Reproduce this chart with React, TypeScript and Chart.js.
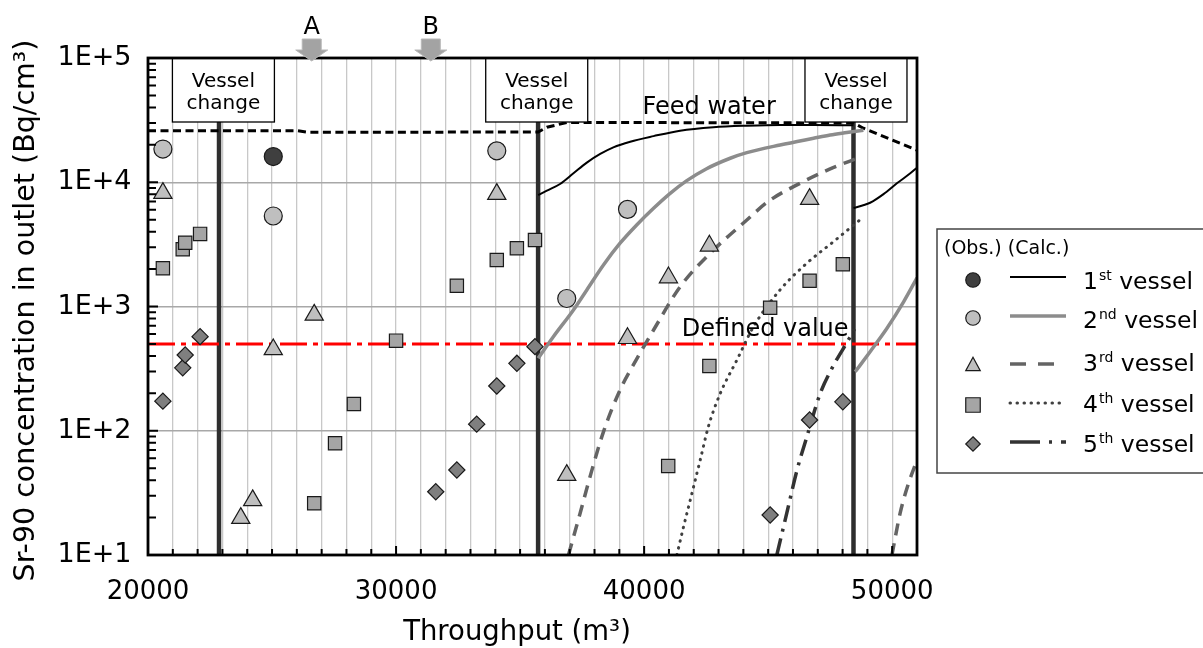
import React, { useEffect, useRef } from 'react';
import { Chart, registerables } from 'chart.js';

Chart.register(...registerables);

const FONT = '"DejaVu Sans", Verdana, sans-serif';

// ---- axes ----
const xMin = 20000;
const xMax = 51000;
const xGridStep = 1000;
const yMin = 10;
const yMax = 100000;
const xTickLabels = ['20000', '30000', '40000', '50000'];
const yTickLabels = ['1E+1', '1E+2', '1E+3', '1E+4', '1E+5'];
const xTitle = 'Throughput (m³)';
const yTitle = 'Sr-90 concentration in outlet (Bq/cm³)';

// ---- annotations ----
const vesselChangeX = [22863, 35726, 48440];
const vesselBoxX = [23040, 35670, 48540];
const vesselBoxText = ['Vessel', 'change'];
const arrowLabels = ['A', 'B'];
const arrowX = [26600, 31400];
const definedValue = 500;
const definedLabel = 'Defined value';
const definedLabelPos = [44880, 650];
const feedLabel = 'Feed water';
const feedLabelPos = [42620, 39600];

// ---- feed water ----
const feedX = [20000, 26000, 26500, 35730, 36080, 36880, 48440, 48840, 51000];
const feedY = [26000, 26000, 25200, 25400, 27700, 30300, 30000, 27200, 18100];

// ---- calculated curves ----
const calc1aX = [35730, 36080, 36610, 37150, 37690, 38230, 38760, 39440, 40380, 41450, 42790, 44140, 45480, 46830, 48440];
const calc1aY = [7890, 8550, 9680, 11800, 14400, 16900, 19100, 21200, 23500, 26000, 27700, 28500, 28900, 28900, 28700];
const calc1bX = [48440, 48800, 49110, 49650, 50190, 50730, 51000];
const calc1bY = [6200, 6500, 6840, 8030, 9810, 11800, 13100];

const calc2aX = [35730, 36340, 37150, 37690, 38360, 39030, 39700, 40380, 41050, 41720, 42500, 43470, 44140, 45480, 46830, 47500, 48170, 48840];
const calc2aY = [383, 571, 938, 1360, 2160, 3230, 4530, 6170, 8140, 10300, 12800, 15600, 17300, 19950, 22600, 24000, 25100, 26200];
const calc2bX = [48510, 49110, 49790, 50460, 51000];
const calc2bY = [298, 433, 668, 1090, 1700];

const calc3aX = [36950, 37420, 37820, 38360, 39030, 39640, 40380, 41450, 42660, 44140, 45000, 46290, 47500, 48700];
const calc3aY = [10, 21.7, 42.7, 98, 213, 360, 647, 1440, 2680, 4970, 7000, 9820, 12800, 15900];
const calc3bX = [49990, 50320, 50660, 51000];
const calc3bY = [10, 21.7, 37.8, 58];

const calc4X = [41320, 41590, 41860, 42260, 42590, 43070, 43740, 44410, 45480, 46560, 47630, 48780];
const calc4Y = [10, 16.9, 27.7, 58, 108, 200, 371, 689, 1360, 2230, 3320, 5130];

const calc5X = [45350, 45750, 46160, 46560, 47100, 47570, 48310, 48480];
const calc5Y = [10, 21.7, 48, 89.5, 200, 318, 571, 660];

// ---- observed ----
const obs1X = [25050];
const obs1Y = [16100];
const obs2X = [20600, 25050, 34060, 36880, 39330];
const obs2Y = [18500, 5350, 17900, 1160, 6050];
const obs3X = [20600, 23740, 24220, 25050, 26700, 34060, 36880, 39330, 40980, 42630, 46670];
const obs3Y = [8170, 19.8, 27.5, 451, 856, 8020, 43.9, 555, 1710, 3080, 7310];
const obs4X = [20600, 21400, 21500, 22100, 26700, 27540, 28300, 30000, 32450, 34060, 34870, 35600, 40970, 42630, 45080, 46670, 48010];
const obs4Y = [2030, 2890, 3260, 3840, 26.1, 79.3, 164, 531, 1470, 2370, 2940, 3430, 52, 332, 977, 1610, 2190];
const obs5X = [20600, 21400, 21500, 22100, 31600, 32450, 33250, 34060, 34870, 35600, 45080, 46670, 48010];
const obs5Y = [173, 321, 407, 572, 32.3, 48.3, 113, 229, 349, 475, 21, 122, 171];

// ---- legend ----
const legendHeader = '(Obs.) (Calc.)';
const legendNums = ['1', '2', '3', '4', '5'];
const legendSups = ['st', 'nd', 'rd', 'th', 'th'];
const legendWord = ' vessel';

// ---- styles ----
const C_DARK_CIRCLE = '#3f3f3f';
const C_LIGHT = '#bfbfbf';
const C_SQUARE = '#a5a5a5';
const C_DIAMOND = '#7f7f7f';
const C_EDGE = '#1a1a1a';

const calcStyles = [
  { color: '#000000', width: 2, dash: [] as number[], cap: 'butt' },
  { color: '#8c8c8c', width: 3.5, dash: [] as number[], cap: 'butt' },
  { color: '#646464', width: 3.5, dash: [12, 8], cap: 'butt' },
  { color: '#404040', width: 3, dash: [0.5, 6.5], cap: 'round' },
  { color: '#333333', width: 3.5, dash: [17, 7, 3, 7], cap: 'butt' },
];
const markStyles = [
  { style: 'circle', r: 9, fill: C_DARK_CIRCLE },
  { style: 'circle', r: 9, fill: C_LIGHT },
  { style: 'triangle', r: 10.5, fill: C_LIGHT },
  { style: 'rect', r: 9.4, fill: C_SQUARE },
  { style: 'rectRot', r: 8.1, fill: C_DIAMOND },
];

const pts = (xs: number[], ys: number[]) => xs.map((x, i) => ({ x, y: ys[i] }));

const isDecade = (v: number) => {
  const l = Math.log10(v);
  return Math.abs(l - Math.round(l)) < 1e-6;
};

function lineDS(label: string, xs: number[], ys: number[], s: any, order: number, smooth = true) {
  return {
    label,
    data: pts(xs, ys),
    showLine: true,
    borderColor: s.color,
    borderWidth: s.width,
    borderDash: s.dash,
    borderCapStyle: s.cap,
    pointRadius: 0,
    pointHoverRadius: 0,
    fill: false,
    cubicInterpolationMode: smooth ? 'monotone' : 'default',
    tension: 0,
    order,
  };
}

function markDS(label: string, xs: number[], ys: number[], m: any) {
  return {
    label,
    data: pts(xs, ys),
    showLine: false,
    pointStyle: m.style,
    pointRadius: m.r,
    pointHoverRadius: m.r,
    pointBackgroundColor: m.fill,
    pointBorderColor: C_EDGE,
    pointBorderWidth: 1.2,
    order: 0,
  };
}

function drawMark(ctx: CanvasRenderingContext2D, kind: string, x: number, y: number, s: number, fill: string) {
  const h = s / 2;
  ctx.beginPath();
  if (kind === 'circle') ctx.arc(x, y, h, 0, Math.PI * 2);
  else if (kind === 'triangle') {
    ctx.moveTo(x, y - h * 0.92);
    ctx.lineTo(x + h, y + h * 0.92);
    ctx.lineTo(x - h, y + h * 0.92);
    ctx.closePath();
  } else if (kind === 'rect') ctx.rect(x - h, y - h, s, s);
  else {
    ctx.moveTo(x, y - h);
    ctx.lineTo(x + h, y);
    ctx.lineTo(x, y + h);
    ctx.lineTo(x - h, y);
    ctx.closePath();
  }
  ctx.fillStyle = fill;
  ctx.fill();
  ctx.lineWidth = 1.2;
  ctx.strokeStyle = C_EDGE;
  ctx.stroke();
}

const decorPlugin = {
  id: 'decor',
  afterDraw(chart: any) {
    const { ctx, chartArea: ca } = chart;
    const xs = chart.scales.x;
    const ys = chart.scales.y;
    ctx.save();

    // inward ticks
    ctx.strokeStyle = '#000';
    ctx.lineWidth = 2;
    ctx.beginPath();
    xs.ticks.forEach((t: any) => {
      const px = xs.getPixelForValue(t.value);
      const len = t.value % 10000 === 0 ? 9 : 6;
      ctx.moveTo(px, ca.bottom);
      ctx.lineTo(px, ca.bottom - len);
    });
    ys.ticks.forEach((t: any) => {
      const py = ys.getPixelForValue(t.value);
      const len = isDecade(t.value) ? 10 : 8;
      ctx.moveTo(ca.left, py);
      ctx.lineTo(ca.left + len, py);
    });
    ctx.stroke();

    // vessel-change boxes
    vesselBoxX.forEach((v) => {
      const cx = xs.getPixelForValue(v);
      const w = 102;
      const top = ca.top;
      const h = 64;
      ctx.fillStyle = '#fff';
      ctx.fillRect(cx - w / 2, top, w, h);
      ctx.strokeStyle = '#000';
      ctx.lineWidth = 1.3;
      ctx.strokeRect(cx - w / 2, top, w, h);
      ctx.fillStyle = '#000';
      ctx.font = `20px ${FONT}`;
      ctx.textAlign = 'center';
      ctx.textBaseline = 'alphabetic';
      ctx.fillText(vesselBoxText[0], cx, top + 29);
      ctx.fillText(vesselBoxText[1], cx, top + 51);
    });

    // frame
    ctx.strokeStyle = '#000';
    ctx.lineWidth = 2.8;
    ctx.strokeRect(ca.left, ca.top, ca.right - ca.left, ca.bottom - ca.top);

    // arrows A / B
    arrowX.forEach((v, i) => {
      const cx = xs.getPixelForValue(v);
      const top = ca.top;
      ctx.beginPath();
      ctx.moveTo(cx - 9.5, top - 19);
      ctx.lineTo(cx + 9.5, top - 19);
      ctx.lineTo(cx + 9.5, top - 8);
      ctx.lineTo(cx + 16, top - 8);
      ctx.lineTo(cx, top + 3);
      ctx.lineTo(cx - 16, top - 8);
      ctx.lineTo(cx - 9.5, top - 8);
      ctx.closePath();
      ctx.fillStyle = '#a3a3a3';
      ctx.fill();
      ctx.strokeStyle = '#b8b8b8';
      ctx.lineWidth = 1;
      ctx.stroke();
      ctx.fillStyle = '#000';
      ctx.font = `24px ${FONT}`;
      ctx.textAlign = 'center';
      ctx.textBaseline = 'alphabetic';
      ctx.fillText(arrowLabels[i], cx, top - 24);
    });

    // in-plot labels
    ctx.fillStyle = '#000';
    ctx.font = `24px ${FONT}`;
    ctx.textAlign = 'center';
    ctx.textBaseline = 'middle';
    ctx.fillText(feedLabel, xs.getPixelForValue(feedLabelPos[0]), ys.getPixelForValue(feedLabelPos[1]));
    ctx.fillText(definedLabel, xs.getPixelForValue(definedLabelPos[0]), ys.getPixelForValue(definedLabelPos[1]));

    // axis titles
    ctx.font = `27.5px ${FONT}`;
    ctx.textAlign = 'center';
    ctx.textBaseline = 'alphabetic';
    ctx.fillText(xTitle, 517, 640);
    ctx.save();
    ctx.font = `28.5px ${FONT}`;
    ctx.translate(33.5, (ca.top + ca.bottom) / 2 + 4);
    ctx.rotate(-Math.PI / 2);
    ctx.fillText(yTitle, 0, 0);
    ctx.restore();

    // legend
    const L = { left: 937, top: 229, right: 1216, bottom: 473 };
    ctx.fillStyle = '#fff';
    ctx.fillRect(L.left, L.top, L.right - L.left, L.bottom - L.top);
    ctx.strokeStyle = '#444';
    ctx.lineWidth = 1.5;
    ctx.strokeRect(L.left, L.top, L.right - L.left, L.bottom - L.top);
    ctx.fillStyle = '#000';
    ctx.font = `19px ${FONT}`;
    ctx.textAlign = 'left';
    ctx.textBaseline = 'middle';
    ctx.fillText(legendHeader, 944, 249);
    const rowY = [280, 319, 362, 403, 443];
    const markY = [280, 318, 364, 405, 444];
    const lineY = [277, 316, 364, 403, 442];
    legendNums.forEach((n, i) => {
      const m = markStyles[i];
      drawMark(ctx, m.style, 973, markY[i], 14.5, m.fill);
      const s = calcStyles[i];
      ctx.beginPath();
      ctx.setLineDash(i === 2 ? [16, 12] : i === 3 ? [0.5, 6.5] : i === 4 ? [30, 9, 3, 9] : []);
      ctx.lineCap = s.cap as CanvasLineCap;
      ctx.strokeStyle = s.color;
      ctx.lineWidth = s.width;
      ctx.moveTo(1010, lineY[i]);
      ctx.lineTo(1066, lineY[i]);
      ctx.stroke();
      ctx.setLineDash([]);
      ctx.lineCap = 'butt';
      ctx.fillStyle = '#000';
      ctx.textBaseline = 'alphabetic';
      const base = rowY[i] + 8.6;
      ctx.font = `23.5px ${FONT}`;
      let x = 1083;
      ctx.fillText(n, x, base);
      x += ctx.measureText(n).width + 1;
      ctx.font = `14px ${FONT}`;
      ctx.fillText(legendSups[i], x, base - 9);
      x += ctx.measureText(legendSups[i]).width;
      ctx.font = `23.5px ${FONT}`;
      ctx.fillText(legendWord, x, base);
    });

    ctx.restore();
  },
};

export default function App() {
  const ref = useRef<HTMLCanvasElement>(null);
  useEffect(() => {
    const vesselLine = { color: '#2e2e2e', width: 4.5, dash: [] as number[], cap: 'butt' };
    const datasets: any[] = [
      ...vesselChangeX.map((v, i) => lineDS('vessel change ' + (i + 1), [v, v], [yMin, yMax], vesselLine, 6, false)),
      lineDS('Feed water', feedX, feedY, { color: '#000', width: 3, dash: [8, 4.5], cap: 'butt' }, 5, false),
      lineDS('Defined value', [xMin, xMax], [definedValue, definedValue], { color: '#ff0000', width: 3, dash: [27, 6, 5, 6], cap: 'butt' }, 5, false),
      lineDS('1st calc a', calc1aX, calc1aY, calcStyles[0], 2),
      lineDS('1st calc b', calc1bX, calc1bY, calcStyles[0], 2),
      lineDS('2nd calc a', calc2aX, calc2aY, calcStyles[1], 2),
      lineDS('2nd calc b', calc2bX, calc2bY, calcStyles[1], 2),
      lineDS('3rd calc a', calc3aX, calc3aY, calcStyles[2], 2),
      lineDS('3rd calc b', calc3bX, calc3bY, calcStyles[2], 2),
      lineDS('4th calc', calc4X, calc4Y, calcStyles[3], 2),
      lineDS('5th calc', calc5X, calc5Y, calcStyles[4], 2),
      markDS('1st obs', obs1X, obs1Y, markStyles[0]),
      markDS('2nd obs', obs2X, obs2Y, markStyles[1]),
      markDS('3rd obs', obs3X, obs3Y, markStyles[2]),
      markDS('4th obs', obs4X, obs4Y, markStyles[3]),
      markDS('5th obs', obs5X, obs5Y, markStyles[4]),
    ];

    const chart = new Chart(ref.current as HTMLCanvasElement, {
      type: 'scatter',
      data: { datasets },
      options: {
        responsive: false,
        animation: false,
        devicePixelRatio: 1,
        layout: { padding: { left: 0, top: 58, right: 286, bottom: 0 } },
        plugins: { legend: { display: false }, tooltip: { enabled: false } },
        events: [],
        scales: {
          x: {
            type: 'linear',
            min: xMin,
            max: xMax,
            afterBuildTicks: (scale: any) => {
              const t = [];
              for (let v = xMin; v <= xMax; v += xGridStep) t.push({ value: v });
              scale.ticks = t;
            },
            afterFit: (scale: any) => {
              scale.height = 93;
            },
            ticks: {
              autoSkip: false,
              maxRotation: 0,
              padding: 22,
              color: '#000',
              font: { family: FONT, size: 26 },
              callback: (value: any) => {
                const v = Number(value);
                return v % 10000 === 0 ? xTickLabels[(v - xMin) / 10000] : '';
              },
            },
            grid: { color: '#c8c8c8', lineWidth: 1.3, drawTicks: false },
            border: { display: false },
          },
          y: {
            type: 'logarithmic',
            min: yMin,
            max: yMax,
            afterBuildTicks: (scale: any) => {
              const t = [];
              for (let d = 1; d <= 4; d++) {
                for (let m = 1; m <= 9; m++) t.push({ value: m * Math.pow(10, d) });
              }
              t.push({ value: yMax });
              scale.ticks = t;
            },
            afterFit: (scale: any) => {
              scale.width = 148;
            },
            ticks: {
              autoSkip: false,
              padding: 16.5,
              color: '#000',
              font: { family: FONT, size: 27 },
              callback: (value: any) => {
                const v = Number(value);
                return isDecade(v) ? yTickLabels[Math.round(Math.log10(v)) - 1] : '';
              },
            },
            grid: {
              color: (c: any) => (c.tick && isDecade(c.tick.value) ? '#a8a8a8' : 'rgba(0,0,0,0)'),
              lineWidth: 1.5,
              drawTicks: false,
            },
            border: { display: false },
          },
        },
      } as any,
      plugins: [decorPlugin],
    });
    return () => chart.destroy();
  }, []);

  return (
    <div style={{ position: 'absolute', left: 0, top: 0, width: 1203, height: 648, background: '#fff' }}>
      <canvas ref={ref} width={1203} height={648} style={{ display: 'block' }} />
    </div>
  );
}
